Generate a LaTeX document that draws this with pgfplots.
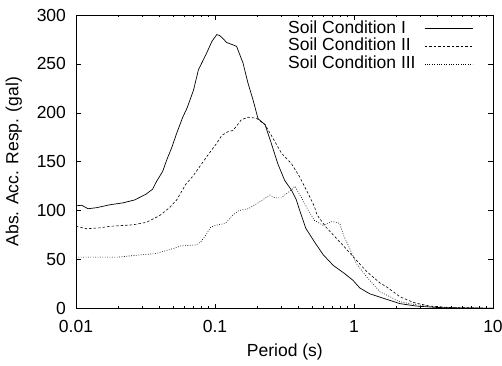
\documentclass[border=0pt]{standalone}
\usepackage{pgfplots}
\pgfplotsset{compat=1.18}
\usepackage{fontspec}
\setmainfont{Liberation Sans}
\begin{document}
\fontsize{17.5bp}{19bp}\selectfont
\begin{tikzpicture}
\begin{axis}[
  at={(0,0)}, anchor=south west,
  scale only axis,
  width=417bp, height=293.5bp,
  xmode=log, xmin=0.01, xmax=10,
  ymin=0, ymax=300,
  ytick={0,50,...,300},
  xtick={0.01,0.1,1,10},
  xticklabels={0.01,0.1,1,10},
  /pgf/number format/assume math mode=true,
  tick label style={font=\fontsize{17.5bp}{19bp}\selectfont},
  xticklabel style={yshift=-6bp},
  yticklabel style={xshift=-4bp},
  label style={font=\fontsize{17.5bp}{19bp}\selectfont},
  major tick length=5bp, minor tick length=2.5bp,
  tick style={black, line width=0.5bp},
  axis line style={line width=0.7bp},
  every axis y label/.style={at={(axis description cs:-0.149,0.5)},rotate=90,anchor=center},
  every axis x label/.style={at={(axis description cs:0.501,-0.148)},anchor=center},
  xlabel={Period (s)},
  ylabel={Abs. Acc. Resp. (gal)},
  legend style={draw=none, fill=none, at={(0.506,0.985)}, anchor=north west,
     font=\fontsize{17.5bp}{18bp}\selectfont, inner sep=0pt, row sep=0pt,
     nodes={inner sep=1bp, text height=12.4bp, text depth=3.4bp}},
  legend cell align=left,
  legend plot pos=right,
  legend image code/.code={\path[draw=none,fill=none] (0bp,0bp); \draw[#1] (8bp,0bp) -- (56bp,0bp);},
]
\addplot[black, line width=0.7bp] coordinates {
(0.0100,105) (0.0110,105.5) (0.0122,102) (0.0140,103) (0.0175,106) (0.0218,108)
(0.0265,111) (0.0320,117) (0.0356,122) (0.0380,130) (0.0420,140) (0.0450,152)
(0.0490,165) (0.0530,179) (0.0584,195) (0.0630,205) (0.0700,223) (0.0760,244)
(0.0870,261) (0.0950,273) (0.1030,280) (0.1080,279) (0.1140,276) (0.1210,272)
(0.1430,268) (0.1590,251) (0.1730,230) (0.1880,213) (0.2040,194) (0.2290,188)
(0.2540,169) (0.2830,148) (0.3170,131) (0.3550,121) (0.3850,111) (0.4050,101)
(0.4500,82) (0.5200,68) (0.6000,55) (0.7100,44) (0.8500,36) (0.9800,29)
(1.1000,21) (1.3000,15) (1.6300,10.4) (2.1400,5) (2.8000,2.5) (4.0000,1)
(6.0000,0.5) (10.000,0.3)
};
\addlegendentry{Soil Condition I}
\addplot[black, line width=0.6bp, dash pattern=on 2.5bp off 2bp] coordinates {
(0.0100,84) (0.0119,81.5) (0.0150,82.5) (0.0175,84) (0.0255,85.5) (0.0320,88)
(0.0400,95) (0.0470,103) (0.0530,111) (0.0617,127) (0.0700,136) (0.0870,155)
(0.1030,169) (0.1120,177) (0.1250,181) (0.1350,182) (0.1550,193) (0.1730,195.5)
(0.1990,194.5) (0.2290,188) (0.2540,177) (0.3000,159) (0.3550,148) (0.4050,135)
(0.4660,118) (0.5200,104) (0.5400,96) (0.6300,83) (0.8400,64) (0.8900,60)
(1.0000,52) (1.2300,38) (1.5400,26) (1.7200,22) (2.1400,12) (2.7000,6)
(3.5000,2.5) (5.0000,1) (10.000,0.3)
};
\addlegendentry{Soil Condition II}
\addplot[black, line width=0.6bp, dash pattern=on 0.8bp off 1.6bp] coordinates {
(0.0100,52.5) (0.0200,52.5) (0.0300,55) (0.0370,56) (0.0440,59) (0.0520,62)
(0.0570,64) (0.0730,65) (0.0790,68) (0.0860,75) (0.0930,83) (0.1010,85)
(0.1190,87) (0.1330,95) (0.1480,100) (0.1740,102) (0.2040,108) (0.2250,112)
(0.2480,116) (0.2700,113) (0.3000,113) (0.3300,118) (0.3550,121) (0.3750,125)
(0.4200,113) (0.4660,101) (0.5200,90) (0.6000,85) (0.7000,89) (0.7900,87)
(0.8400,75) (0.9000,66) (1.0400,46) (1.2300,32.5) (1.5400,17) (2.1400,7)
(2.5000,5) (3.5000,2) (5.0000,0.8) (10.000,0.3)
};
\addlegendentry{Soil Condition III}
\end{axis}
\pgfresetboundingbox
\useasboundingbox (-76bp,-57.5bp) rectangle (426bp,308.5bp);
\end{tikzpicture}
\end{document}
